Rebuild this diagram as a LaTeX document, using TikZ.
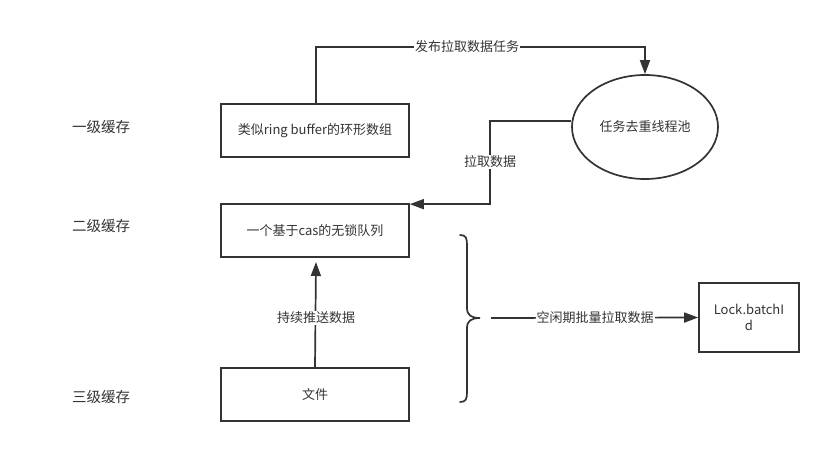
\documentclass[tikz,border=0pt]{standalone}
\usepackage{fontspec}
\setmainfont{Noto Sans CJK SC}
\usetikzlibrary{arrows.meta,shapes.geometric}
\definecolor{ink}{HTML}{333333}
\begin{document}
\begin{tikzpicture}[x=1pt,y=-1pt,
  line width=1.7pt,
  every node/.style={font=\fontsize{13}{16}\selectfont, text=ink},
  box/.style={draw=ink, line width=1.7pt, minimum width=188pt, minimum height=53pt, inner sep=0pt},
  conn/.style={draw=ink, line width=1.7pt, -{Triangle[length=14pt,width=10pt]}},
  lbl/.style={fill=white, inner sep=1pt},
  side/.style={font=\fontsize{14.5}{16}\selectfont}]
\useasboundingbox (0,0) rectangle (831,453);
\node[box] (ring) at (315,130.5) {类似ring buffer的环形数组};
\node[box] (queue) at (315,230.5) {一个基于cas的无锁队列};
\node[box] (file) at (315,394.5) {文件};
\node[draw=ink, line width=1.7pt, ellipse, minimum width=146pt, minimum height=104pt, inner sep=0pt] (pool) at (645,127) {任务去重线程池};
\node[draw=ink, line width=1.7pt, minimum width=100pt, minimum height=69pt, inner sep=0pt, align=center] (lock) at (749,317.5) {Lock.batchI\\d};
\node[side] (l1) at (101,127) {一级缓存};
\node[side] (l2) at (101,226) {二级缓存};
\node[side] (l3) at (101,397) {三级缓存};
% publish
\draw[conn] (ring.north -| 316,0) |- (470,47) -| (pool.north);
\node[lbl] (publbl) at (467,47) {发布拉取数据任务};
% pull
\path (pool.west) ++(0,-6) coordinate (ps);
\path (queue.north east) ++(0,1) coordinate (qe);
\draw[conn] (ps) -| (490,162) |- (qe);
\node[lbl] (pulllbl) at (490,162) {拉取数据};
% push
\coordinate (qb) at (316,262);
\draw[conn] (file.north) -- (qb);
\node[lbl] (pushlbl) at (316,318) {持续推送数据};
% brace
\draw[ink, line width=1.7pt, line cap=round] (460,235) .. controls (466,235) and (467,238) .. (467,245)
  -- (467,308) .. controls (467,315) and (471,318) .. (480,318)
  .. controls (471,318) and (467,321) .. (467,328) -- (467,392)
  .. controls (467,399) and (466,402) .. (460,402);
\coordinate (bt) at (491,318);
\draw[conn] (bt) -- (lock.west);
\node[lbl] (idlelbl) at (595,318) {空闲期批量拉取数据};
\end{tikzpicture}
\end{document}
